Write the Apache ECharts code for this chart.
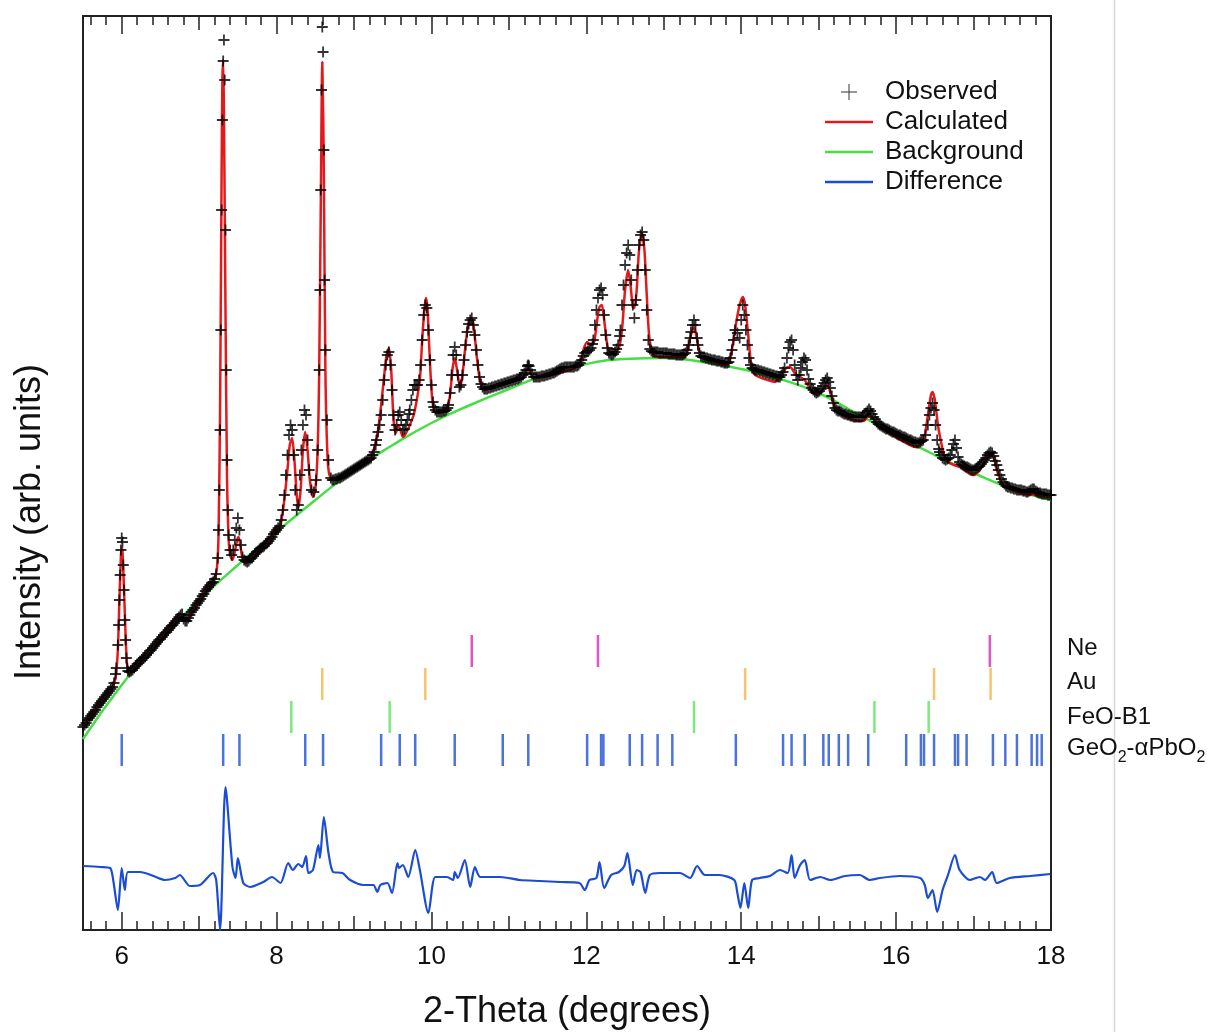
<!DOCTYPE html>
<html>
<head>
<meta charset="utf-8">
<script src="https://cdn.jsdelivr.net/npm/echarts@6/dist/echarts.min.js"></script>
<style>html,body{margin:0;padding:0;background:#fff;}#c{width:1213px;height:1032px;}</style>
</head>
<body>
<div id="c"></div>
<script>
// ---- data (2-theta in degrees, intensity in arbitrary units) ----
const observed = [
[5.50,203],[5.52,205],[5.54,207],[5.56,210],[5.58,212],[5.60,214],[5.62,216],[5.64,218],[5.66,220],[5.68,223],[5.70,225],[5.72,227],[5.74,229],[5.76,231],[5.78,233],[5.80,235],[5.82,237],[5.84,239],[5.86,241],[5.88,243],[5.90,247],
[5.92,256],[5.93,262],[5.95,285],[5.96,305],[5.97,330],[5.98,355],[5.99,380],[6.00,392],[6.01,388],[6.02,365],[6.03,340],[6.04,310],[6.05,290],[6.06,272],[6.07,262],
[6.08,259],[6.10,258],[6.12,259],[6.14,260],[6.16,262],[6.18,264],[6.20,266],[6.22,267],[6.24,269],[6.26,270],[6.28,272],[6.30,273],[6.32,275],[6.34,277],[6.36,279],[6.38,280],[6.40,282],[6.42,284],[6.44,286],[6.46,288],[6.48,290],[6.50,291],[6.52,293],[6.54,295],[6.56,297],[6.58,298],[6.60,300],[6.62,302],[6.64,304],[6.66,305],[6.68,307],[6.70,309],[6.72,311],[6.74,313],[6.76,315],[6.78,316],[6.80,311],[6.82,309],[6.84,309],[6.86,312],[6.88,315],[6.90,318],[6.92,320],[6.94,322],[6.96,325],[6.98,327],[7.00,329],[7.02,331],[7.04,334],[7.06,336],[7.08,339],[7.10,341],[7.12,343],[7.14,345],[7.16,347],[7.18,348],[7.20,351],[7.22,356],
[7.24,372],[7.25,400],[7.26,440],[7.27,500],[7.28,600],[7.29,720],[7.30,810],[7.31,869],[7.32,890],[7.33,850],[7.34,700],[7.35,560],[7.36,470],[7.37,420],[7.38,395],[7.40,380],[7.42,375],[7.44,380],[7.46,390],[7.48,402],[7.50,412],[7.52,400],[7.54,385],
[7.56,373],[7.58,370],[7.60,369],[7.62,368],[7.64,369],[7.66,371],[7.68,372],[7.70,374],[7.72,376],[7.74,378],[7.76,379],[7.78,381],[7.80,382],[7.82,383],[7.84,384],[7.86,386],[7.88,387],[7.90,389],[7.92,391],[7.94,393],[7.96,396],[7.98,398],[8.00,400],[8.02,402],[8.04,404],[8.06,410],
[8.08,420],[8.10,435],[8.12,455],[8.14,475],[8.16,495],[8.18,505],[8.20,500],[8.22,475],[8.24,440],[8.26,420],[8.28,425],[8.30,455],[8.32,480],[8.34,505],[8.36,520],[8.38,515],[8.40,490],[8.42,460],[8.45,440],[8.48,438],
[8.51,450],[8.53,480],[8.55,560],[8.56,640],[8.57,740],[8.58,840],[8.59,903],[8.60,878],[8.61,780],[8.62,650],[8.63,580],[8.65,510],[8.67,470],
[8.70,452],[8.72,450],[8.74,450],[8.76,451],[8.78,451],[8.80,452],[8.82,452],[8.84,453],[8.86,454],[8.88,455],[8.90,456],[8.92,457],[8.94,458],[8.96,459],[8.98,460],[9.00,461],[9.02,462],[9.04,463],[9.06,464],[9.08,465],[9.10,466],[9.12,467],[9.14,468],[9.16,469],[9.18,470],[9.20,471],[9.22,472],
[9.24,475],[9.26,478],[9.28,485],[9.29,490],[9.31,498],[9.33,505],[9.35,515],[9.37,530],[9.39,550],[9.41,565],[9.43,575],[9.45,578],[9.47,565],[9.49,540],[9.51,515],[9.53,500],[9.55,505],[9.57,515],[9.59,518],[9.61,510],[9.63,500],[9.65,501],[9.67,505],[9.69,510],[9.71,516],[9.72,520],[9.74,530],[9.76,540],[9.78,545],[9.80,545],[9.82,545],[9.84,550],[9.86,565],[9.88,590],[9.90,615],[9.92,625],[9.94,622],[9.96,600],[9.98,570],[10.00,545],[10.02,528],[10.03,523],
[10.05,520],[10.07,518],[10.09,518],[10.11,518],[10.13,518],[10.15,519],[10.17,519],[10.19,520],[10.21,522],
[10.22,525],[10.24,537],[10.26,555],[10.28,575],[10.30,583],[10.32,575],[10.34,555],[10.36,543],[10.38,545],[10.40,555],[10.42,570],[10.44,585],[10.46,598],[10.48,606],[10.50,610],[10.52,612],[10.54,605],[10.56,595],[10.58,580],[10.60,565],[10.62,553],[10.64,546],
[10.66,543],[10.68,541],[10.70,541],[10.72,541],[10.74,542],[10.76,542],[10.78,543],[10.80,543],[10.82,544],[10.84,544],[10.86,545],[10.88,545],[10.90,546],[10.92,546],[10.94,547],[10.96,547],[10.98,548],[11.00,548],[11.02,549],[11.04,549],[11.06,550],[11.08,550],[11.10,551],[11.12,551],[11.14,552],[11.16,553],[11.18,555],
[11.20,557],[11.22,560],[11.24,564],[11.25,565],[11.26,564],[11.28,560],[11.30,556],
[11.32,553],[11.34,553],[11.36,553],[11.38,553],[11.40,553],[11.42,554],[11.44,554],[11.46,554],[11.48,555],[11.50,555],[11.52,556],[11.54,556],[11.56,557],[11.58,557],[11.60,558],[11.62,559],[11.64,560],[11.66,561],[11.68,562],[11.70,562],[11.72,563],[11.74,563],[11.76,563],[11.78,563],[11.80,563],[11.82,563],[11.84,563],[11.86,564],[11.88,564],[11.90,565],
[11.92,567],[11.94,570],[11.96,574],[11.98,577],[12.00,578],[12.02,579],[12.04,580],[12.06,582],[12.08,586],[12.09,590],[12.11,605],[12.13,620],[12.15,632],[12.17,640],[12.19,642],[12.21,635],[12.23,615],[12.25,595],[12.27,582],[12.29,577],[12.31,576],[12.33,575],[12.35,576],[12.37,578],[12.39,581],[12.41,585],[12.43,594],[12.44,600],[12.46,625],[12.48,645],[12.50,665],[12.52,677],[12.54,685],[12.56,675],[12.58,650],[12.60,625],[12.62,612],[12.64,630],[12.66,660],[12.68,685],[12.70,695],[12.72,698],[12.74,690],[12.76,660],[12.78,620],[12.80,590],[12.82,581],
[12.84,579],[12.86,578],[12.88,578],[12.90,578],[12.92,578],[12.94,577],[12.96,577],[12.98,577],[13.00,577],[13.02,577],[13.04,577],[13.06,576],[13.08,576],[13.10,576],[13.12,576],[13.14,576],[13.16,575],[13.18,575],[13.20,575],[13.22,575],[13.24,575],[13.26,576],[13.28,577],
[13.30,580],[13.32,585],[13.34,592],[13.35,598],[13.37,605],[13.39,610],[13.41,605],[13.43,592],[13.44,585],[13.46,577],
[13.48,574],[13.50,573],[13.52,573],[13.54,572],[13.56,572],[13.58,571],[13.60,571],[13.62,570],[13.64,570],[13.66,570],[13.68,569],[13.70,569],[13.72,569],[13.74,568],[13.76,568],[13.78,567],[13.80,567],[13.82,567],[13.84,568],[13.86,572],
[13.88,580],[13.90,590],[13.92,600],[13.95,597],[13.98,592],[14.00,610],[14.02,625],[14.04,615],[14.06,600],[14.08,585],[14.10,572],
[14.12,565],[14.14,562],[14.16,561],[14.18,560],[14.20,560],[14.22,560],[14.24,559],[14.26,559],[14.28,558],[14.30,558],[14.32,557],[14.34,557],[14.36,556],[14.38,556],[14.40,555],[14.42,555],[14.44,554],[14.46,554],[14.48,553],[14.50,553],[14.52,555],
[14.54,558],[14.56,562],[14.59,572],[14.61,582],[14.63,588],[14.65,590],[14.67,580],[14.69,565],[14.71,555],[14.73,550],[14.75,555],[14.77,562],[14.79,568],[14.81,572],[14.83,570],[14.85,560],
[14.87,551],[14.89,546],[14.91,542],[14.93,540],[14.95,538],[14.97,537],[14.99,538],[15.01,539],[15.03,541],[15.05,544],[15.07,547],[15.09,550],[15.11,552],[15.13,548],[15.15,542],[15.17,534],[15.19,527],
[15.21,522],[15.23,520],[15.25,519],[15.27,519],[15.29,518],[15.31,517],[15.33,516],[15.35,516],[15.37,515],[15.39,515],[15.41,514],[15.43,514],[15.45,513],[15.47,513],[15.49,513],[15.51,513],[15.53,513],[15.55,513],[15.57,514],[15.59,515],[15.61,517],[15.63,519],[15.65,521],[15.67,519],[15.69,516],[15.71,513],[15.73,511],[15.75,508],[15.77,506],[15.79,505],[15.81,504],[15.83,503],[15.85,502],[15.87,501],[15.89,501],[15.91,500],[15.93,499],[15.95,498],[15.97,498],[15.99,497],[16.01,496],[16.03,495],[16.05,495],[16.07,494],[16.09,493],[16.11,493],[16.13,492],[16.15,491],[16.17,490],[16.19,490],[16.21,489],[16.23,488],[16.25,488],[16.27,487],[16.29,487],[16.31,488],[16.33,489],
[16.35,490],[16.38,495],[16.41,505],[16.43,515],[16.45,522],[16.47,527],[16.49,520],[16.51,505],[16.53,490],[16.55,481],
[16.56,478],[16.58,475],[16.60,472],[16.62,471],[16.64,470],[16.66,471],[16.68,472],[16.70,475],[16.72,480],[16.74,486],[16.76,490],[16.78,482],[16.80,473],[16.82,468],[16.84,466],[16.86,465],[16.88,464],[16.90,463],[16.92,463],[16.94,462],[16.96,461],[16.98,460],[17.00,460],[17.02,461],[17.04,462],[17.06,463],[17.08,464],[17.10,466],[17.12,468],[17.14,470],[17.16,472],[17.18,475],[17.20,477],[17.22,478],[17.24,477],[17.26,474],[17.28,469],[17.30,465],[17.32,460],[17.34,455],[17.36,451],[17.38,448],[17.40,446],[17.42,444],[17.44,443],
[17.46,443],[17.48,442],[17.50,442],[17.52,441],[17.54,441],[17.56,440],[17.58,440],[17.60,440],[17.62,440],[17.64,439],[17.66,439],[17.68,438],[17.70,438],[17.72,439],[17.74,440],[17.76,441],[17.78,441],[17.80,439],[17.82,438],[17.84,437],[17.86,437],[17.88,436],[17.90,436],[17.92,436],[17.94,436],[17.96,435],[17.98,435],[18.00,435]
];

const calculated = [
[5.50,203],[5.60,214],[5.70,225],[5.80,235],[5.88,243],[5.92,252],[5.95,280],[5.97,330],[5.99,375],[6.00,382],[6.01,378],[6.03,340],[6.05,295],[6.07,265],[6.10,256],
[6.20,265],[6.40,281],[6.60,299],[6.75,313],[6.80,311],[6.85,311],[6.90,317],[7.00,329],[7.10,340],[7.16,346],[7.20,352],[7.23,362],[7.25,395],[7.27,520],[7.29,760],[7.30,850],[7.31,870],[7.32,820],[7.34,620],[7.36,450],[7.38,392],[7.40,375],[7.43,370],[7.46,378],[7.49,390],[7.51,393],[7.53,385],[7.56,372],[7.60,367],
[7.70,373],[7.80,382],[7.90,390],[8.00,400],[8.05,405],[8.10,430],[8.14,460],[8.17,485],[8.20,492],[8.23,470],[8.26,435],[8.28,422],[8.31,440],[8.34,480],[8.37,498],[8.40,480],[8.43,450],[8.47,433],[8.50,440],[8.53,480],[8.55,560],[8.57,720],[8.59,868],[8.61,760],[8.63,560],[8.66,470],[8.70,452],
[8.80,452],[8.90,456],[9.00,461],[9.10,466],[9.21,470],[9.27,485],[9.31,500],[9.35,525],[9.39,555],[9.42,575],[9.45,582],[9.48,560],[9.51,510],[9.54,497],[9.57,505],[9.60,500],[9.63,493],[9.67,497],[9.72,505],[9.77,515],[9.81,530],[9.85,550],[9.88,590],[9.91,622],[9.93,632],[9.95,620],[9.97,585],[10.00,540],[10.03,520],[10.07,517],
[10.15,518],[10.20,521],[10.24,535],[10.27,560],[10.30,572],[10.33,560],[10.37,542],[10.40,555],[10.44,585],[10.48,608],[10.52,612],[10.55,600],[10.59,570],[10.63,548],[10.68,540],[10.76,542],
[10.90,545],[11.05,549],[11.18,553],[11.22,558],[11.25,562],[11.28,557],[11.32,552],[11.50,554],[11.70,558],[11.85,562],[11.92,568],[11.97,582],[12.01,588],[12.06,585],[12.10,588],[12.14,610],[12.17,623],[12.20,625],[12.23,610],[12.27,585],[12.31,577],[12.36,578],[12.42,582],[12.46,600],[12.50,640],[12.54,660],[12.57,645],[12.60,623],[12.62,622],[12.65,640],[12.68,680],[12.72,697],[12.75,680],[12.78,635],[12.81,595],[12.85,578],[12.90,573],
[13.10,573],[13.27,573],[13.31,580],[13.35,595],[13.39,603],[13.43,590],[13.47,575],[13.52,571],[13.65,568],[13.80,565],[13.85,570],[13.89,585],[13.93,605],[13.97,622],[14.00,630],[14.02,633],[14.05,625],[14.09,595],[14.13,565],[14.18,555],[14.30,551],[14.44,548],[14.52,556],[14.58,562],[14.63,563],[14.70,556],[14.76,553],[14.82,550],[14.90,540],[14.98,535],[15.04,540],[15.11,545],[15.16,535],[15.22,520],[15.30,515],[15.45,510],[15.58,509],[15.65,515],[15.71,511],[15.80,502],[15.95,495],[16.10,488],[16.25,483],[16.32,486],[16.37,495],[16.41,515],[16.45,535],[16.47,538],[16.50,530],[16.54,505],[16.58,488],[16.62,475],[16.67,468],[16.75,465],[16.85,462],[16.95,456],[17.00,455],[17.08,460],[17.15,470],[17.20,477],[17.24,477],[17.30,460],[17.37,446],[17.45,442],[17.60,437],[17.80,435],[18.00,433]
];

const background = [
[5.5,191],[6.0,245],[6.5,291],[7.0,330],[7.5,365],[8.0,398],[8.5,430],[9.0,460],[9.5,485],[10.0,507],[10.5,525],[11.0,541],[11.5,556],[12.0,566],[12.5,571],[13.0,572],[13.5,568],[14.0,561],[14.5,551],[15.0,537],[15.5,516],[16.0,495],[16.5,475],[17.0,457],[17.5,441],[18.0,430]
];

const difference = [
[5.50,64],[5.72,63],[5.85,62],[5.89,50],[5.95,20],[6.00,62],[6.04,40],[6.08,58],[6.24,58],[6.41,54],[6.56,50],[6.69,52],[6.75,55],[6.88,44],[7.01,45],[7.18,57],[7.22,50],[7.27,0],[7.34,143],[7.43,63],[7.47,52],[7.50,72],[7.57,47],[7.66,43],[7.83,48],[7.94,53],[8.05,47],[8.15,67],[8.21,60],[8.28,66],[8.33,63],[8.38,74],[8.41,57],[8.47,60],[8.54,85],[8.56,72],[8.61,113],[8.67,77],[8.73,58],[8.85,57],[8.95,50],[9.12,45],[9.25,45],[9.30,38],[9.34,45],[9.43,47],[9.49,37],[9.56,67],[9.58,62],[9.63,65],[9.70,53],[9.79,80],[9.85,60],[9.96,17],[10.05,53],[10.20,53],[10.28,50],[10.30,58],[10.34,52],[10.43,70],[10.50,43],[10.56,63],[10.63,53],[10.89,53],[11.14,50],[11.40,49],[11.66,48],[11.91,47],[11.98,40],[12.04,50],[12.13,52],[12.17,68],[12.23,42],[12.32,55],[12.42,58],[12.49,64],[12.53,77],[12.60,45],[12.65,60],[12.70,58],[12.76,37],[12.82,55],[12.95,57],[13.21,57],[13.34,52],[13.43,64],[13.53,55],[13.72,55],[13.91,50],[13.95,37],[13.99,22],[14.04,47],[14.09,22],[14.14,50],[14.24,52],[14.37,54],[14.50,60],[14.60,57],[14.65,75],[14.69,52],[14.76,65],[14.82,70],[14.89,50],[15.02,53],[15.15,50],[15.34,54],[15.53,55],[15.66,50],[15.79,52],[16.05,54],[16.31,52],[16.37,45],[16.41,32],[16.47,40],[16.53,18],[16.60,40],[16.67,55],[16.76,75],[16.82,60],[16.95,50],[17.08,53],[17.15,50],[17.24,58],[17.30,47],[17.47,52],[17.73,54],[17.99,56]
];

// reflection positions (2-theta)
const reflNe = [10.52, 12.15, 17.21];
const reflAu = [8.59, 9.92, 14.05, 16.49, 17.22];
const reflFeO = [8.19, 9.46, 13.39, 15.72, 16.42];
const reflGeO2 = [6.00,7.31,7.52,8.37,8.60,9.35,9.59,9.79,10.30,10.92,11.25,12.01,12.19,12.22,12.56,12.72,12.92,13.11,13.93,14.54,14.65,14.82,15.06,15.13,15.26,15.38,15.64,16.13,16.32,16.36,16.49,16.76,16.80,16.91,17.25,17.41,17.56,17.75,17.82,17.88];
// tick row levels (intensity units)
const rowNe = 279, rowAu = 246, rowFeO = 213, rowGeO2 = 180;

const xLabels = [6, 8, 10, 12, 14, 16, 18];
const xMidTicks = [7, 9, 11, 13, 15, 17];
const xMinorTicks = [];
for (let k = 28; k <= 89; k++) xMinorTicks.push(k / 5);

const FONT = 'Liberation Sans, Arial, Helvetica, sans-serif';
const chart = echarts.init(document.getElementById('c'), null, {renderer: 'canvas'});

function tickAxis(pos, values, len, withLabels) {
  const a = {
    type: 'value', min: 5.5, max: 18, position: pos,
    axisLine: {show: false},
    splitLine: {show: false},
    axisTick: {show: true, inside: true, length: len, customValues: values, lineStyle: {color: '#222', width: 1.5}},
    axisLabel: {show: false}
  };
  if (withLabels) {
    a.axisLabel = {show: true, customValues: xLabels, fontSize: 26, color: '#111', fontFamily: FONT, margin: 14};
    a.name = '2-Theta (degrees)';
    a.nameLocation = 'middle';
    a.nameGap = 64;
    a.nameTextStyle = {fontSize: 36, color: '#111', fontFamily: FONT};
  }
  return a;
}

const plus = 'path://M0,4.2H10V5.8H0Z M4.2,0H5.8V10H4.2Z';
const lineIcon = 'path://M0,0H48V2.6H0Z';
const plusIcon = 'path://M0,7.5H16V8.5H0Z M7.5,0H8.5V16H7.5Z';

function refl(name, arr, row, color) {
  return {
    name: name, type: 'scatter', xAxisIndex: 0, yAxisIndex: 0,
    symbol: 'rect', symbolSize: [2.5, 32],
    itemStyle: {color: color},
    data: arr.map(v => [v, row]), silent: true, z: 3
  };
}

chart.setOption({
  animation: false,
  backgroundColor: '#fff',
  textStyle: {fontFamily: FONT},
  grid: {left: 83, right: 162, top: 16, bottom: 102, containLabel: false, outerBoundsMode: 'none',
         show: true, borderColor: '#222', borderWidth: 2, backgroundColor: 'transparent'},
  legend: {
    orient: 'vertical', left: 820, top: 74, itemWidth: 48, itemHeight: 16, itemGap: 4,
    textStyle: {fontSize: 26, color: '#111', fontFamily: FONT, padding: [0, 0, 0, 7]},
    data: [
      {name: 'Observed', icon: plusIcon},
      {name: 'Calculated', icon: lineIcon},
      {name: 'Background', icon: lineIcon},
      {name: 'Difference', icon: lineIcon}
    ],
    selectedMode: false
  },
  xAxis: [
    tickAxis('bottom', xLabels, 18, true),
    tickAxis('bottom', xMidTicks, 14, false),
    tickAxis('bottom', xMinorTicks, 9, false),
    tickAxis('top', xLabels, 18, false),
    tickAxis('top', xMidTicks, 14, false),
    tickAxis('top', xMinorTicks, 9, false)
  ],
  yAxis: {
    type: 'value', min: 0, max: 914,
    axisLine: {show: false}, axisTick: {show: false}, axisLabel: {show: false}, splitLine: {show: false}
  },
  series: [
    {name: 'Background', type: 'line', data: background, smooth: 0.5, showSymbol: false,
     color: '#45de45', lineStyle: {color: '#45de45', width: 2.5}, z: 2},
    {name: 'Calculated', type: 'line', data: calculated, smooth: 0.25, showSymbol: false,
     color: '#e3191c', lineStyle: {color: '#e3191c', width: 2.5}, z: 3},
    {name: 'Observed', type: 'scatter', data: observed, symbol: plus, symbolSize: 11,
     color: '#000', itemStyle: {color: '#000'}, z: 4},
    {name: 'Difference', type: 'line', data: difference, smooth: 0.25, showSymbol: false,
     color: '#1a4cd6', lineStyle: {color: '#1a4cd6', width: 2.2}, z: 3},
    refl('Ne', reflNe, rowNe, '#d42cb6'),
    refl('Au', reflAu, rowAu, '#f5b548'),
    refl('FeO-B1', reflFeO, rowFeO, '#5be35b'),
    refl('GeO2-aPbO2', reflGeO2, rowGeO2, '#1f4fd6')
  ],
  graphic: [
    {type: 'line', shape: {x1: 1114.5, y1: 0, x2: 1114.5, y2: 1032}, style: {stroke: '#d6d6d6', lineWidth: 1.5}, silent: true},
    {type: 'text', x: 30, y: 522, rotation: Math.PI / 2, style: {text: 'Intensity (arb. units)', fontSize: 36, fill: '#111', fontFamily: FONT, align: 'center', verticalAlign: 'middle'}},
    {type: 'text', x: 1067, y: 648, style: {text: 'Ne', fontSize: 24, fill: '#111', fontFamily: FONT, verticalAlign: 'middle'}},
    {type: 'text', x: 1067, y: 682, style: {text: 'Au', fontSize: 24, fill: '#111', fontFamily: FONT, verticalAlign: 'middle'}},
    {type: 'text', x: 1067, y: 717, style: {text: 'FeO-B1', fontSize: 24, fill: '#111', fontFamily: FONT, verticalAlign: 'middle'}},
    {type: 'text', x: 1067, y: 751, style: {
      text: '{n|GeO}{s|2}{n|-αPbO}{s|2}', verticalAlign: 'middle',
      rich: {
        n: {fontSize: 24, fill: '#111', fontFamily: FONT, lineHeight: 30, verticalAlign: 'top'},
        s: {fontSize: 16, fill: '#111', fontFamily: FONT, lineHeight: 30, verticalAlign: 'bottom'}
      }
    }}
  ]
});
</script>
</body>
</html>
